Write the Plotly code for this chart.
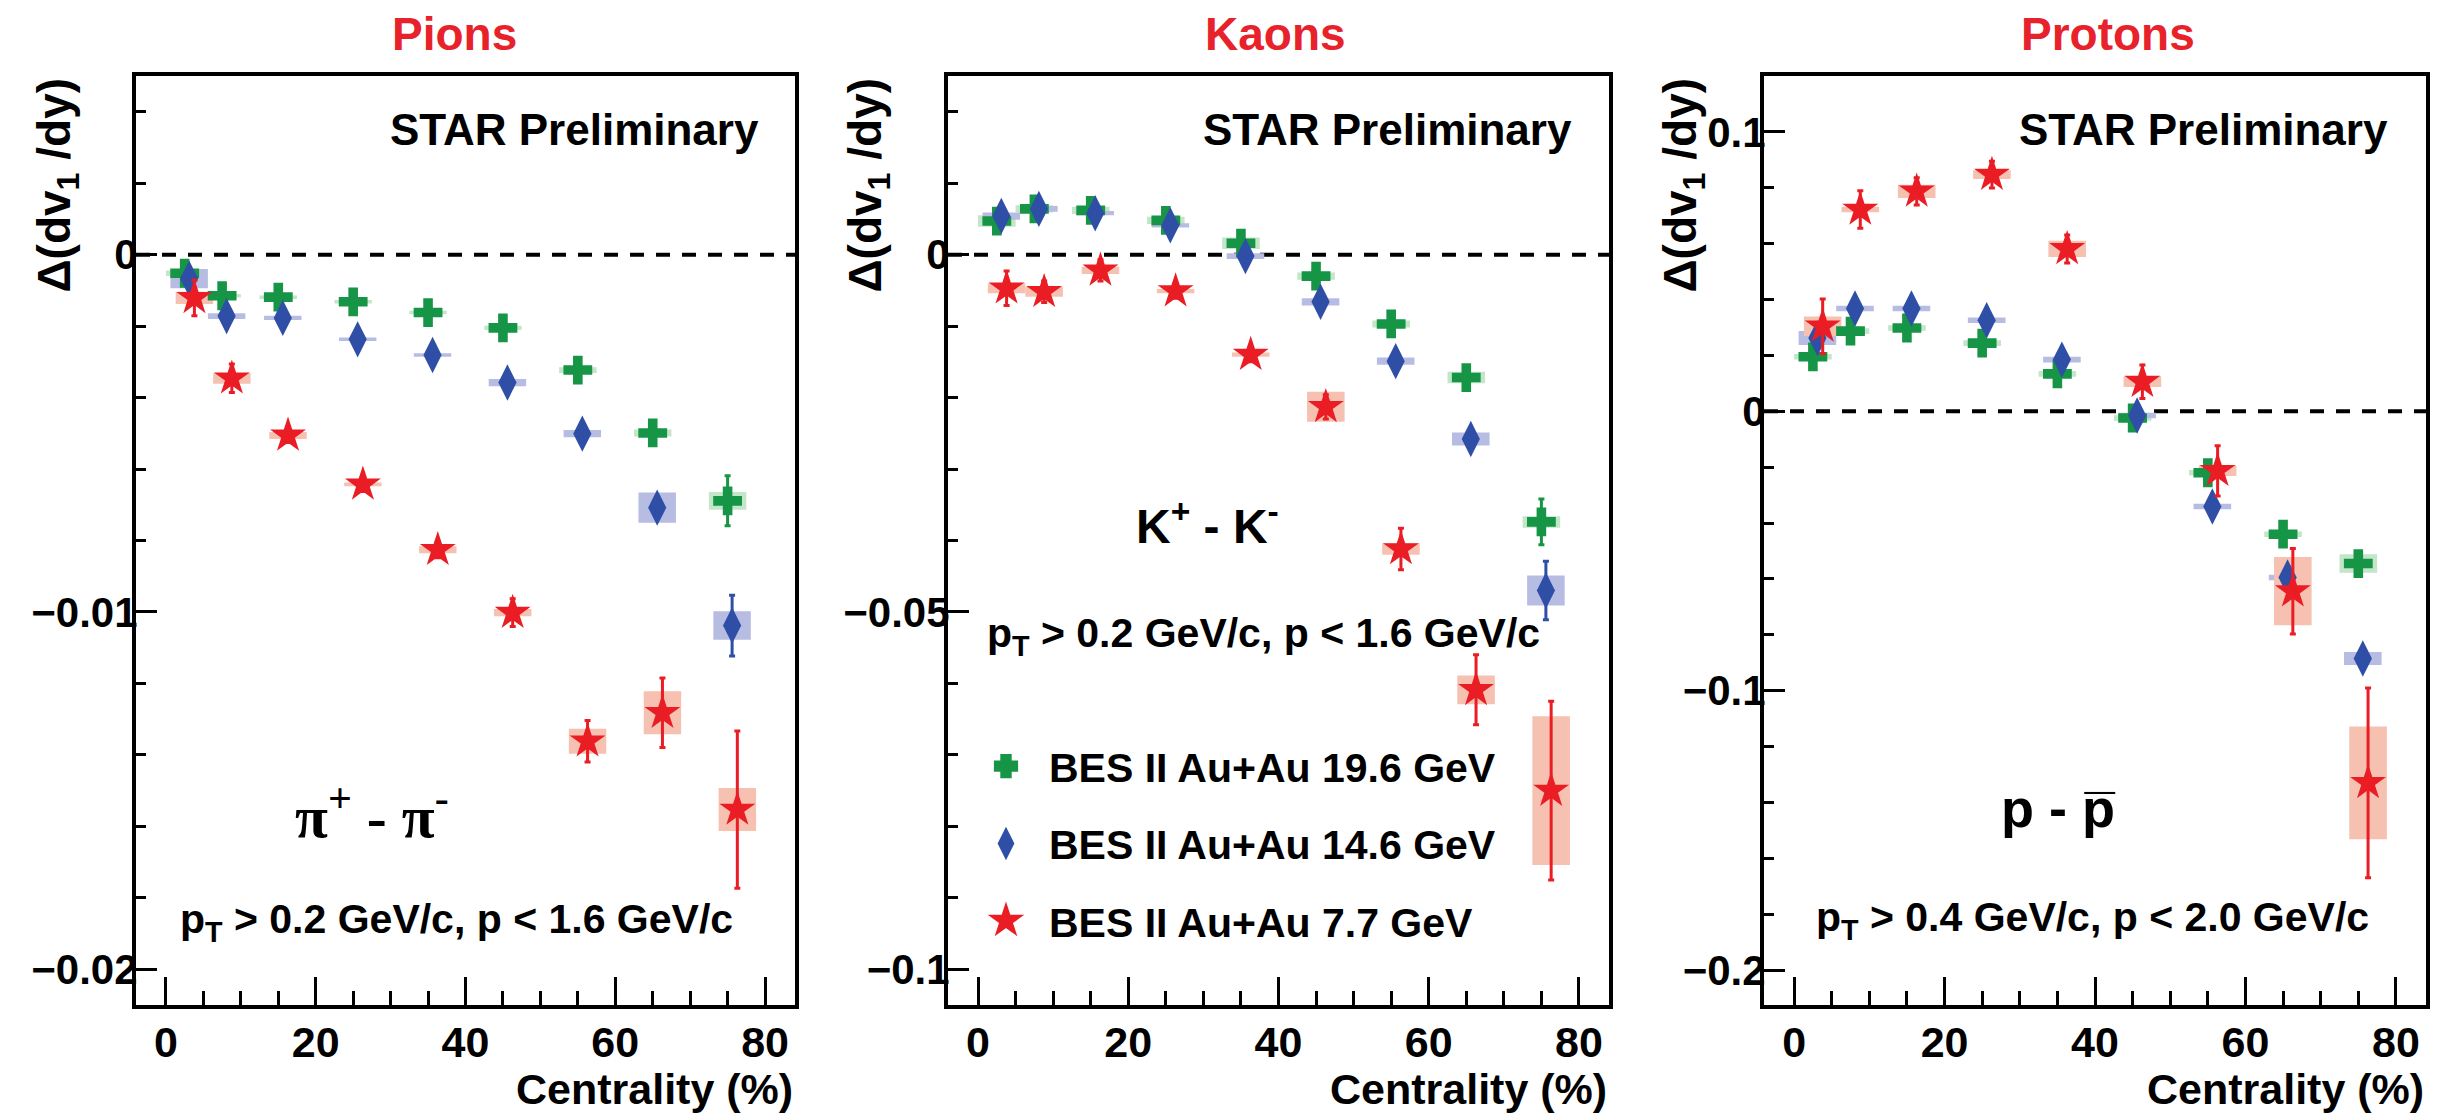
import plotly.graph_objects as go

# ---------------- data ----------------
centrality = [2.5, 7.5, 15, 25, 35, 45, 55, 65, 75]
energy_labels = ["BES II Au+Au 19.6 GeV", "BES II Au+Au 14.6 GeV", "BES II Au+Au 7.7 GeV"]
panel_titles = ["Pions", "Kaons", "Protons"]

pion_19p6 = [-0.00052, -0.00115, -0.00119, -0.00132, -0.00162, -0.00205, -0.00323, -0.00499, -0.00689]
pion_19p6_stat = [0.0001, 0.0001, 0.0001, 0.0001, 0.0001, 0.0001, 0.00012, 0.00015, 0.0007]
pion_19p6_sys = [0.00008, 0.00005, 0.00005, 0.00005, 0.00005, 0.00006, 0.00008, 0.0001, 0.00025]
pion_14p6 = [-0.00067, -0.00172, -0.00177, -0.00237, -0.00281, -0.00358, -0.00501, -0.00708, -0.01038]
pion_14p6_stat = [0.0002, 0.0001, 0.0001, 0.0001, 0.0001, 0.00012, 0.00015, 0.0002, 0.00085]
pion_14p6_sys = [0.00027, 0.00008, 0.00006, 0.00005, 0.00005, 0.0001, 0.0001, 0.00042, 0.0004]
pion_7p7 = [-0.00121, -0.00346, -0.00506, -0.00643, -0.00826, -0.01002, -0.01362, -0.01282, -0.01553]
pion_7p7_stat = [0.0005, 0.0004, 0.0002, 0.0002, 0.00022, 0.00039, 0.00058, 0.00097, 0.0022]
pion_7p7_sys = [0.00017, 0.00015, 0.0001, 0.00005, 0.0001, 0.0001, 0.00035, 0.0006, 0.0006]

kaon_19p6 = [0.0047, 0.0064, 0.0062, 0.0048, 0.0016, -0.0030, -0.0097, -0.0172, -0.0374]
kaon_19p6_stat = [0.0006, 0.0005, 0.0005, 0.0005, 0.0005, 0.0006, 0.0007, 0.0008, 0.0032]
kaon_19p6_sys = [0.0008, 0.0005, 0.0005, 0.0005, 0.0008, 0.0005, 0.0005, 0.0008, 0.0008]
kaon_14p6 = [0.0054, 0.0064, 0.0058, 0.0041, -0.0002, -0.0066, -0.0149, -0.0258, -0.0470]
kaon_14p6_stat = [0.0006, 0.0005, 0.0005, 0.0005, 0.0005, 0.0006, 0.0007, 0.0009, 0.0041]
kaon_14p6_sys = [0.0005, 0.0004, 0.0003, 0.0003, 0.0004, 0.0005, 0.0005, 0.0009, 0.0021]
kaon_7p7 = [-0.0047, -0.0052, -0.0022, -0.0051, -0.0140, -0.0213, -0.0412, -0.0609, -0.0750]
kaon_7p7_stat = [0.0024, 0.0015, 0.0015, 0.0010, 0.0010, 0.0017, 0.0029, 0.0049, 0.0125]
kaon_7p7_sys = [0.0007, 0.0007, 0.0005, 0.0003, 0.0003, 0.0021, 0.0008, 0.0020, 0.0104]

proton_19p6 = [0.0195, 0.0287, 0.0298, 0.0244, 0.0134, -0.0024, -0.0220, -0.0440, -0.0545]
proton_19p6_stat = [0.002, 0.002, 0.002, 0.002, 0.002, 0.002, 0.002, 0.002, 0.002]
proton_19p6_sys = [0.001, 0.001, 0.001, 0.001, 0.001, 0.001, 0.001, 0.001, 0.0033]
proton_14p6 = [0.0262, 0.0368, 0.0368, 0.0326, 0.0185, -0.0015, -0.0341, -0.0595, -0.0885]
proton_14p6_stat = [0.002, 0.002, 0.002, 0.002, 0.002, 0.002, 0.002, 0.002, 0.002]
proton_14p6_sys = [0.0025, 0.001, 0.001, 0.001, 0.001, 0.001, 0.001, 0.001, 0.0023]
proton_7p7 = [0.0304, 0.0722, 0.0787, 0.0847, 0.0581, 0.0106, -0.0213, -0.0644, -0.1330]
proton_7p7_stat = [0.0098, 0.0067, 0.0049, 0.0048, 0.0050, 0.0060, 0.0090, 0.0153, 0.0340]
proton_7p7_sys = [0.0035, 0.0010, 0.0024, 0.0016, 0.0029, 0.0019, 0.0019, 0.0122, 0.0202]

reaction_labels = ["π<sup>+</sup> - π<sup>-</sup>", "K<sup>+</sup> - K<sup>-</sup>", "p - p\u0305"]
cut_labels = ["p<sub>T</sub> &gt; 0.2 GeV/c, p &lt; 1.6 GeV/c",
              "p<sub>T</sub> &gt; 0.2 GeV/c, p &lt; 1.6 GeV/c",
              "p<sub>T</sub> &gt; 0.4 GeV/c, p &lt; 2.0 GeV/c"]

# ---------------- style ----------------
W, H = 2442, 1117
FONT = "Liberation Sans, Arial, Helvetica, sans-serif"
SERIF = "Liberation Serif, Times New Roman, serif"
marker_colors = ["#179547", "#2f4fa7", "#ea1d25"]
box_colors = ["#c3e5c8", "#b7bce3", "#f6c1b1"]
symbols = ["cross", "diamond-tall", "star"]
sizes = [24, 26, 27]
x_offsets = [0.0, 0.6, 1.3]
box_width = 5.0

panels = [
    [(pion_19p6, pion_19p6_stat, pion_19p6_sys),
     (pion_14p6, pion_14p6_stat, pion_14p6_sys),
     (pion_7p7, pion_7p7_stat, pion_7p7_sys)],
    [(kaon_19p6, kaon_19p6_stat, kaon_19p6_sys),
     (kaon_14p6, kaon_14p6_stat, kaon_14p6_sys),
     (kaon_7p7, kaon_7p7_stat, kaon_7p7_sys)],
    [(proton_19p6, proton_19p6_stat, proton_19p6_sys),
     (proton_14p6, proton_14p6_stat, proton_14p6_sys),
     (proton_7p7, proton_7p7_stat, proton_7p7_sys)],
]
y_ranges = [[-0.021, 0.005], [-0.105, 0.025], [-0.2125, 0.12]]
y_dticks = [0.01, 0.05, 0.1]
y_minor = [0.002, 0.01, 0.02]

frame_px = [(136, 795), (948, 1609), (1764, 2426)]
frame_top, frame_bot = 76, 1005

fig = go.Figure()

for p, series in enumerate(panels):
    xa = "x" if p == 0 else f"x{p+1}"
    ya = "y" if p == 0 else f"y{p+1}"
    for e, (vals, stat, sys) in enumerate(series):
        xs = [c + x_offsets[e] for c in centrality]
        fig.add_trace(go.Bar(
            x=xs, y=[2 * s for s in sys], base=[v - s for v, s in zip(vals, sys)],
            width=box_width, marker=dict(color=box_colors[e], line=dict(width=0)),
            xaxis=xa, yaxis=ya, showlegend=False, hoverinfo="skip"))
    for e, (vals, stat, sys) in enumerate(series):
        xs = [c + x_offsets[e] for c in centrality]
        fig.add_trace(go.Scatter(
            x=xs, y=vals, mode="markers",
            marker=dict(symbol=symbols[e], size=sizes[e], color=marker_colors[e], line=dict(width=0)),
            error_y=dict(type="data", array=stat, visible=True, color=marker_colors[e],
                         thickness=3, width=3),
            xaxis=xa, yaxis=ya, showlegend=False, name=energy_labels[e]))

# legend entries
for e in range(3):
    fig.add_trace(go.Scatter(
        x=[None], y=[None], mode="markers", name=energy_labels[e],
        marker=dict(symbol=symbols[e], size=16, color=marker_colors[e],
                    line=dict(width=5, color=marker_colors[e])),
        legendgroup=f"g{e}", showlegend=True, xaxis="x2", yaxis="y2"))

layout = dict(
    width=W, height=H, margin=dict(l=0, r=0, t=0, b=0), autosize=False,
    paper_bgcolor="white", plot_bgcolor="white", barmode="overlay",
    font=dict(family=FONT, color="black"),
    showlegend=True,
    legend=dict(x=963 / W, y=1 - 733 / H, xanchor="left", yanchor="top",
                bgcolor="rgba(0,0,0,0)", borderwidth=0,
                font=dict(family=FONT, size=41, color="black", weight="bold"),
                itemwidth=76, tracegroupgap=21, traceorder="grouped"),
)

shapes = []
annotations = []


def ann(text, px, py, size, xanchor="center", yanchor="middle", color="black",
        angle=0, family=FONT, bold=True):
    annotations.append(dict(
        text=text, x=px / W, y=1 - py / H, xref="paper", yref="paper",
        xanchor=xanchor, yanchor=yanchor, showarrow=False, textangle=angle,
        font=dict(family=family, size=size, color=color, weight="bold" if bold else "normal")))


for p in range(3):
    sfx = "" if p == 0 else str(p + 1)
    l, r = frame_px[p]
    layout["xaxis" + sfx] = dict(
        domain=[l / W, r / W], range=[-4, 84], anchor="y" + sfx,
        showline=True, mirror=True, linewidth=4, linecolor="black",
        ticks="inside", ticklen=28, tickwidth=3, tickcolor="black",
        tick0=0, dtick=20, showgrid=False, zeroline=False,
        tickfont=dict(family=FONT, size=43, color="black", weight="bold"),
        ticklabelstandoff=-4,
        minor=dict(dtick=5, tick0=0, ticks="inside", ticklen=14, tickwidth=3,
                   tickcolor="black", showgrid=False),
    )
    layout["yaxis" + sfx] = dict(
        domain=[1 - frame_bot / H, 1 - frame_top / H], range=y_ranges[p], anchor="x" + sfx,
        showline=True, mirror=True, linewidth=4, linecolor="black",
        ticks="inside", ticklen=21, tickwidth=3, tickcolor="black",
        tick0=0, dtick=y_dticks[p], showgrid=False, zeroline=False,
        tickfont=dict(family=FONT, size=42, color="black", weight="bold"),
        ticklabelstandoff=-14,
        minor=dict(dtick=y_minor[p], tick0=0, ticks="inside", ticklen=10, tickwidth=3,
                   tickcolor="black", showgrid=False),
    )
    shapes.append(dict(type="line", xref=f"x{sfx} domain", yref="y" + sfx,
                       x0=0, x1=1, y0=0, y1=0, layer="below",
                       line=dict(color="black", width=4, dash="14px,12px")))

# panel titles
ann(panel_titles[0], 455, 34, 46, color="#e8222a")
ann(panel_titles[1], 1275, 34, 46, color="#e8222a")
ann(panel_titles[2], 2108, 34, 46, color="#e8222a")

# STAR Preliminary
for right in (761, 1574, 2390):
    ann("STAR Preliminary", right, 129, 44, xanchor="right")

# y-axis titles
for xc in (57, 868, 1683):
    ann("Δ(dv<sub>1</sub> /dy)", xc, 76, 46, yanchor="top", angle=-90)

# x-axis titles
for p in range(3):
    ann("Centrality (%)", frame_px[p][1], 1089, 43, xanchor="right")

# reactions
ann(reaction_labels[0], 372, 812, 60, family=SERIF, bold=True)
ann(reaction_labels[1], 1207, 523, 48)
ann(reaction_labels[2], 2058, 808, 54)

# kinematic cuts
ann(cut_labels[0], 178, 922, 41, xanchor="left")
ann(cut_labels[1], 985, 636, 41, xanchor="left")
ann(cut_labels[2], 1814, 920, 41, xanchor="left")

layout["shapes"] = shapes
layout["annotations"] = annotations
fig.update_layout(**layout)

fig.write_html("out.html")
